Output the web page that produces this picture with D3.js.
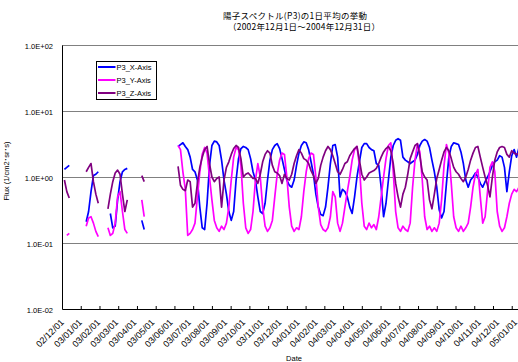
<!DOCTYPE html>
<html>
<head>
<meta charset="utf-8">
<script src="https://cdn.jsdelivr.net/npm/d3@7"></script>
<style>
  html, body { margin: 0; padding: 0; background: #fff; overflow: hidden; }
  svg { display: block; font-family: "Liberation Sans", Arial, "Noto Sans CJK JP", sans-serif; }
</style>
</head>
<body>
<svg id="chart" width="518" height="362"></svg>
<script>
// Daily-average P3 proton flux, one reading every 4 days starting 2002-12-01 (null = no data)
const sampleStep = 4;

const xAxisFlux = [
  null,1.3,1.4,1.5,null,null,null,null,null,null,
  0.21,0.3,0.6,1.05,1.1,1.2,null,null,null,null,
  0.28,0.17,0.18,0.45,0.85,1.2,1.3,1.35,null,null,
  null,null,null,0.22,0.16,null,null,null,null,null,
  null,null,null,null,null,null,null,null,2.9,3.1,
  3.3,2.9,2.6,2.0,1.3,1.2,0.9,0.35,0.17,0.16,
  0.4,1.5,3.0,3.5,3.4,3.0,1.8,0.9,0.55,0.3,
  0.22,0.3,0.9,1.9,2.7,2.9,2.8,2.6,1.9,1.2,
  0.9,0.5,0.3,0.28,0.4,0.9,1.8,2.6,3.0,3.2,
  2.7,1.9,1.3,0.9,0.75,0.7,0.9,1.5,2.3,3.0,
  3.4,3.3,2.6,1.7,1.1,0.55,0.35,0.27,0.26,0.35,
  0.7,1.6,3.0,3.1,2.0,0.5,0.65,0.6,0.5,0.35,
  0.28,0.5,1.0,1.7,2.8,3.2,3.2,2.8,2.6,2.5,
  1.6,1.5,0.7,0.25,0.4,0.9,2.0,3.0,3.6,3.8,
  3.6,2.0,1.8,1.7,1.6,1.7,1.8,2.2,3.0,3.5,
  3.7,3.5,2.8,1.8,1.2,0.7,0.32,0.24,0.3,0.8,
  2.0,2.9,3.3,3.2,3.1,2.4,1.6,0.9,0.7,0.9,
  1.0,1.15,1.0,0.8,0.7,0.85,1.0,1.2,1.5,1.7,
  1.8,2.1,2.0,1.4,0.6,1.2,2.1,2.6,2.0,2.8,2.7
];

const yAxisFlux = [
  null,null,0.13,0.14,null,null,null,null,null,null,
  0.18,0.24,0.25,0.2,0.15,0.125,null,null,null,0.17,
  0.13,0.14,0.2,0.5,0.6,0.3,0.16,0.14,null,null,
  null,null,null,0.45,0.25,null,null,null,null,null,
  null,null,null,null,null,null,null,null,3.0,2.6,
  1.2,0.65,0.13,0.14,0.16,0.2,0.5,1.2,2.2,2.8,
  2.3,1.0,0.45,0.22,0.17,0.15,0.18,0.16,0.2,0.35,
  0.9,2.0,2.8,2.6,1.5,0.4,0.17,0.14,0.16,0.3,
  0.9,1.6,1.0,0.35,0.18,0.15,0.17,0.22,0.5,1.1,
  1.8,2.3,2.2,1.0,0.35,0.18,0.15,0.17,0.16,0.25,
  0.6,1.2,1.9,2.3,2.2,1.0,0.35,0.19,0.16,0.15,
  0.17,0.25,0.6,0.5,0.2,0.15,0.2,0.35,0.6,1.0,
  1.8,2.6,2.9,1.5,0.4,0.18,0.16,0.2,0.17,0.19,
  0.16,0.25,0.5,1.0,1.9,3.0,3.3,1.2,0.3,0.17,
  0.15,0.18,0.16,0.15,0.2,0.7,1.8,3.2,2.4,0.9,
  0.25,0.16,0.18,0.15,0.17,0.15,0.2,0.45,1.5,3.1,
  2.3,0.8,0.25,0.17,0.15,0.18,0.15,0.17,0.2,0.35,
  0.7,1.1,1.3,0.5,0.2,0.25,0.6,1.4,1.7,1.2,
  0.3,0.18,0.15,0.17,0.25,0.4,0.55,0.65,0.6,0.7,0.75
];

const zAxisFlux = [
  null,0.9,0.6,0.48,null,null,null,null,null,null,
  1.2,1.4,1.6,0.85,0.55,0.4,null,null,null,0.33,
  0.55,0.85,1.15,1.27,1.1,0.55,0.3,0.45,null,null,
  null,null,null,1.05,0.85,null,null,null,null,null,
  null,null,null,null,null,null,null,null,1.45,0.75,
  0.65,0.62,0.9,0.85,0.35,0.4,0.8,1.4,2.0,2.6,
  2.9,1.6,1.0,0.85,0.95,1.0,0.35,0.9,1.4,1.7,
  2.2,2.7,3.0,2.8,1.9,1.0,1.1,1.15,1.05,0.95,
  0.95,0.8,1.1,1.7,2.2,2.5,2.3,1.5,1.2,1.15,
  1.05,0.8,1.1,0.95,0.9,1.1,1.6,2.1,2.6,2.3,
  1.9,1.8,1.6,1.25,1.05,0.8,0.95,1.5,2.0,2.5,
  2.9,2.6,2.1,1.6,1.2,1.1,1.3,1.6,1.7,2.1,
  2.4,2.7,2.9,1.8,1.1,0.9,1.0,1.15,1.2,1.25,
  1.35,1.6,2.0,2.4,2.7,2.9,2.5,1.6,0.8,0.5,
  0.35,0.55,0.7,1.1,1.9,2.4,3.0,3.2,2.1,1.2,
  1.0,0.9,0.45,0.33,0.55,0.95,1.3,1.8,2.4,2.8,
  2.5,1.9,1.4,1.2,1.1,0.95,0.85,1.0,1.3,1.8,
  2.3,2.8,2.9,2.0,1.4,1.0,0.75,0.5,1.0,1.8,
  2.4,2.8,2.9,2.8,2.2,2.0,2.5,2.3,2.2,2.3,2.3
];

const seriesNames = ["P3_X-Axis", "P3_Y-Axis", "P3_Z-Axis"];
const seriesColors = ["#0000ff", "#ff00ff", "#800080"];

const dateLabels = [
  "02/12/01","03/01/01","03/02/01","03/03/01","03/04/01","03/05/01","03/06/01",
  "03/07/01","03/08/01","03/09/01","03/10/01","03/11/01","03/12/01",
  "04/01/01","04/02/01","04/03/01","04/04/01","04/05/01","04/06/01",
  "04/07/01","04/08/01","04/09/01","04/10/01","04/11/01","04/12/01","05/01/01"
];
const yTickValues = [0.01, 0.1, 1, 10, 100];
const yTickLabels = ["1.0E-02", "1.0E-01", "1.0E+00", "1.0E+01", "1.0E+02"];

const titleLines = ["陽子スペクトル(P3)の1日平均の挙動", "（2002年12月1日～2004年12月31日）"];
const yTitle = "Flux (1/cm2･sr･s)";
const xTitle = "Date";

// ---- layout ----
const totalDays = 761;               // 2002-12-01 .. 2004-12-31
const plot = { left: 62, top: 45, bottom: 309, width: 460 };

const svg = d3.select("#chart");
svg.append("rect").attr("width", 518).attr("height", 362).attr("fill", "#fff");

const x = d3.scaleLinear().domain([0, totalDays]).range([plot.left, plot.left + plot.width]);
const y = d3.scaleLog().domain([0.01, 100]).range([plot.bottom, plot.top]);

// horizontal gridlines
const grid = svg.append("g")
  .attr("transform", `translate(${plot.left},0)`)
  .call(d3.axisLeft(y).tickValues(yTickValues.slice(1)).tickSize(-plot.width).tickFormat(""));
grid.select(".domain").remove();
grid.selectAll("line").attr("stroke", "#808080").attr("stroke-width", 1.2);

// y axis labels
const yAx = svg.append("g")
  .attr("transform", `translate(${plot.left},0)`)
  .call(d3.axisLeft(y).tickValues(yTickValues).tickSize(0).tickPadding(9)
    .tickFormat((d, i) => yTickLabels[i]));
yAx.select(".domain").attr("stroke", "#000");
yAx.selectAll("text").attr("font-size", 7.5).attr("fill", "#000")
  .attr("font-family", '"Liberation Sans", Arial, sans-serif').attr("dy", "0.45em");

// x axis: tick marks every 31 days, labels every 30 days
const tickDays = d3.range(0, totalDays, 31);
const labelDays = dateLabels.map((_, i) => i * 30);

const xTicks = svg.append("g")
  .attr("transform", `translate(0,${plot.bottom})`)
  .call(d3.axisBottom(x).tickValues(tickDays).tickSize(-3).tickSizeOuter(0).tickFormat(""));
xTicks.select(".domain").attr("stroke", "#000");
xTicks.selectAll("line").attr("stroke", "#000");

const xLab = svg.append("g")
  .attr("transform", `translate(0,${plot.bottom})`)
  .call(d3.axisBottom(x).tickValues(labelDays).tickSize(0).tickFormat((d, i) => dateLabels[i]));
xLab.select(".domain").remove();
xLab.selectAll("text")
  .attr("x", 0).attr("y", 0).attr("dy", null)
  .attr("text-anchor", "end")
  .attr("font-size", 9).attr("fill", "#000")
  .attr("font-family", '"Liberation Sans", Arial, sans-serif')
  .attr("transform", "translate(2,14) rotate(-45)");

// series lines
const seriesData = [xAxisFlux, yAxisFlux, zAxisFlux];
const line = d3.line()
  .defined(d => d.v != null)
  .x(d => x(d.day))
  .y(d => y(d.v));

seriesData.forEach((vals, s) => {
  const pts = vals.map((v, i) => ({ day: i * sampleStep, v }));
  svg.append("path")
    .datum(pts)
    .attr("fill", "none")
    .attr("stroke", seriesColors[s])
    .attr("stroke-width", 1.7)
    .attr("stroke-linejoin", "round")
    .attr("d", line);
});

// legend
const lg = svg.append("g").attr("transform", "translate(96.5,61.5)");
lg.append("rect").attr("width", 60).attr("height", 38)
  .attr("fill", "#fff").attr("stroke", "#000").attr("stroke-width", 1);
seriesNames.forEach((name, i) => {
  const yy = 5.5 + i * 13;
  lg.append("line").attr("x1", 1.5).attr("x2", 19).attr("y1", yy).attr("y2", yy)
    .attr("stroke", seriesColors[i]).attr("stroke-width", 2);
  lg.append("text").attr("x", 20).attr("y", yy + 3).attr("font-size", 7.5).attr("fill", "#000")
    .text(name);
});

// titles
svg.append("text").attr("x", 223).attr("y", 19)
  .attr("font-family", '"Noto Sans CJK JP", sans-serif').attr("font-size", 8.5).attr("fill", "#000")
  .attr("textLength", 144).attr("lengthAdjust", "spacing")
  .text(titleLines[0]);
svg.append("text").attr("x", 228).attr("y", 30)
  .attr("font-family", '"Noto Sans CJK JP", sans-serif').attr("font-size", 8.5).attr("fill", "#000")
  .attr("textLength", 152).attr("lengthAdjust", "spacing")
  .text(titleLines[1]);

svg.append("text")
  .attr("transform", "translate(9,171) rotate(-90)")
  .attr("text-anchor", "middle").attr("font-size", 7.5).attr("fill", "#000")
  .text(yTitle);

svg.append("text").attr("x", 294).attr("y", 361)
  .attr("text-anchor", "middle").attr("font-size", 7.5).attr("fill", "#000")
  .text(xTitle);
</script>
</body>
</html>
